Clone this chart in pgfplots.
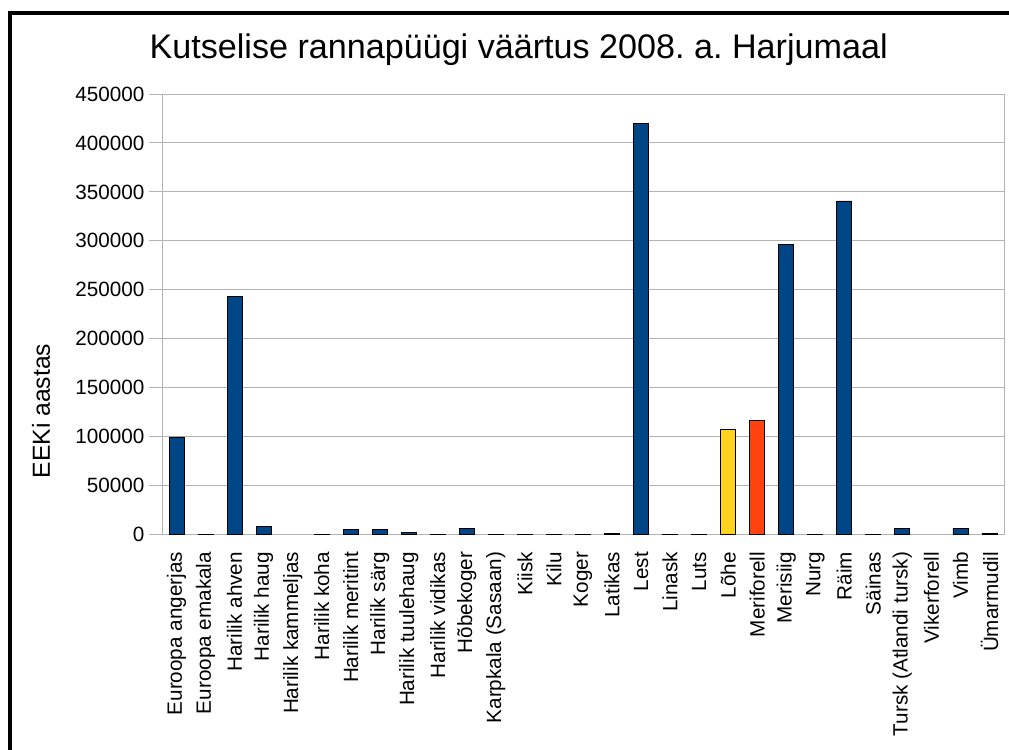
\documentclass[border=0pt]{standalone}
\usepackage{pgfplots}
\pgfplotsset{compat=1.18}
\usepackage{fontspec}
\setmainfont{Liberation Sans}
\frenchspacing
\definecolor{lblue}{HTML}{004586}
\definecolor{lyellow}{HTML}{FFD320}
\definecolor{lred}{HTML}{FF420E}
\definecolor{gridgray}{HTML}{B3B3B3}
\begin{document}
\begin{tikzpicture}
\useasboundingbox (0,0) rectangle (756.75pt,561.75pt);
\draw[line width=3pt] (7.5pt,-2pt) -- (7.5pt,552pt) -- (760pt,552pt);
\node[anchor=base, font=\fontsize{25.6}{30}\selectfont, inner sep=0pt] at (389pt,517.5pt) {Kutselise rannapüügi väärtus 2008. a. Harjumaal};
\begin{axis}[
  at={(121.5pt,161pt)}, anchor=south west,
  scale only axis, width=631.5pt, height=330.2pt,
  xmin=-0.5, xmax=28.5, ymin=0, ymax=450000,
  ytick={0,50000,100000,150000,200000,250000,300000,350000,400000,450000},
  yticklabels={0,50000,100000,150000,200000,250000,300000,350000,400000,450000},
  scaled y ticks=false,
  yticklabel style={font=\fontsize{15.5}{18}\selectfont},
  xtick={0,...,28},
  xticklabels={Euroopa angerjas, Euroopa emakala, Harilik ahven, Harilik haug, Harilik kammeljas, Harilik koha, Harilik meritint, Harilik särg, Harilik tuulehaug, Harilik vidikas, Hõbekoger, Karpkala (Sasaan), Kiisk, Kilu, Koger, Latikas, Lest, Linask, Luts, Lõhe, Meriforell, Merisiig, Nurg, Räim, Säinas, Tursk (Atlandi tursk), Vikerforell, Vimb, Ümarmudil},
  xticklabel style={rotate=90, anchor=east, font=\fontsize{15.5}{18}\selectfont},
  xtick style={draw=none},
  minor xtick={-0.5,0.5,...,28.5},
  major tick length=9.75pt,
  minor tick length=7.5pt,
  tick align=outside,
  tick pos=left,
  tick style={gridgray, line width=0.75pt},
  minor tick style={gridgray, line width=0.75pt},
  axis line style={draw=gridgray, line width=0.75pt},
  ymajorgrids=true,
  major grid style={gridgray, line width=0.75pt},
  ylabel={EEKi aastas},
  ylabel style={at={(axis description cs:-0.1437,0.28)}, anchor=center, font=\fontsize{18.5}{22}\selectfont},
]
\addplot[ybar, bar width=11.25pt, bar shift=0pt, fill=lblue, draw=black, line width=0.6pt] coordinates {
(0,99500) (1,300) (2,243000) (3,8200) (5,300) (6,5100) (7,5100) (8,2000) (9,300)
(10,6400) (11,300) (12,300) (13,300) (14,300) (15,1300) (16,420200) (17,300) (18,300)
(21,296500) (22,300) (23,340800) (24,300) (25,6400) (27,6400) (28,1300)
};
\addplot[ybar, bar width=11.25pt, bar shift=0pt, fill=lyellow, draw=black, line width=0.6pt] coordinates {(19,107700)};
\addplot[ybar, bar width=11.25pt, bar shift=0pt, fill=lred, draw=black, line width=0.6pt] coordinates {(20,116600)};
\end{axis}
\end{tikzpicture}
\end{document}
